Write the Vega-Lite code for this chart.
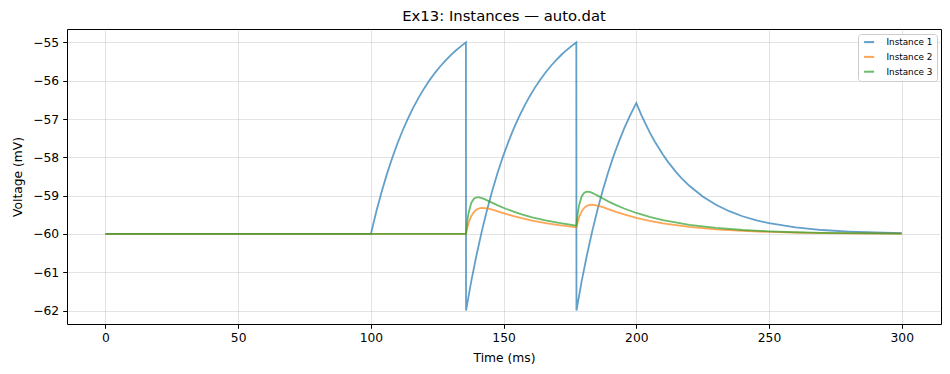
{
  "$schema": "https://vega.github.io/schema/vega-lite/v6.json",
  "width": 874,
  "height": 295,
  "autosize": "none",
  "padding": {"left": 67, "top": 29, "right": 9, "bottom": 50},
  "background": "white",
  "title": {"text": "Ex13: Instances — auto.dat", "anchor": "middle", "frame": "group", "font": "DejaVu Sans", "fontSize": 14.8, "fontWeight": "normal", "color": "black", "baseline": "bottom", "offset": 5, "dy": 15},
  "data": {"values": [
    {"s":"Instance 1","t":0,"v":-60},{"s":"Instance 1","t":100,"v":-60},{"s":"Instance 1","t":102,"v":-59.429},{"s":"Instance 1","t":104,"v":-58.912},{"s":"Instance 1","t":106,"v":-58.445},{"s":"Instance 1","t":108,"v":-58.022},{"s":"Instance 1","t":110,"v":-57.639},{"s":"Instance 1","t":112,"v":-57.293},{"s":"Instance 1","t":114,"v":-56.98},{"s":"Instance 1","t":116,"v":-56.696},{"s":"Instance 1","t":118,"v":-56.44},{"s":"Instance 1","t":120,"v":-56.207},{"s":"Instance 1","t":122,"v":-55.997},{"s":"Instance 1","t":124,"v":-55.807},{"s":"Instance 1","t":126,"v":-55.635},{"s":"Instance 1","t":128,"v":-55.48},{"s":"Instance 1","t":130,"v":-55.339},{"s":"Instance 1","t":132,"v":-55.211},{"s":"Instance 1","t":134,"v":-55.096},{"s":"Instance 1","t":135.8,"v":-55.0},{"s":"Instance 1","t":135.85,"v":-62.0},{"s":"Instance 1","t":137.8,"v":-61.239},{"s":"Instance 1","t":139.8,"v":-60.55},{"s":"Instance 1","t":141.8,"v":-59.927},{"s":"Instance 1","t":143.8,"v":-59.363},{"s":"Instance 1","t":145.8,"v":-58.852},{"s":"Instance 1","t":147.8,"v":-58.39},{"s":"Instance 1","t":149.8,"v":-57.973},{"s":"Instance 1","t":151.8,"v":-57.595},{"s":"Instance 1","t":153.8,"v":-57.253},{"s":"Instance 1","t":155.8,"v":-56.943},{"s":"Instance 1","t":157.8,"v":-56.663},{"s":"Instance 1","t":159.8,"v":-56.41},{"s":"Instance 1","t":161.8,"v":-56.18},{"s":"Instance 1","t":163.8,"v":-55.973},{"s":"Instance 1","t":165.8,"v":-55.785},{"s":"Instance 1","t":167.8,"v":-55.615},{"s":"Instance 1","t":169.8,"v":-55.462},{"s":"Instance 1","t":171.8,"v":-55.322},{"s":"Instance 1","t":173.8,"v":-55.197},{"s":"Instance 1","t":175.8,"v":-55.083},{"s":"Instance 1","t":177.4,"v":-55.0},{"s":"Instance 1","t":177.45,"v":-62.0},{"s":"Instance 1","t":179.4,"v":-61.239},{"s":"Instance 1","t":181.4,"v":-60.55},{"s":"Instance 1","t":183.4,"v":-59.927},{"s":"Instance 1","t":185.4,"v":-59.363},{"s":"Instance 1","t":187.4,"v":-58.852},{"s":"Instance 1","t":189.4,"v":-58.39},{"s":"Instance 1","t":191.4,"v":-57.973},{"s":"Instance 1","t":193.4,"v":-57.595},{"s":"Instance 1","t":195.4,"v":-57.253},{"s":"Instance 1","t":197.4,"v":-56.943},{"s":"Instance 1","t":199.4,"v":-56.663},{"s":"Instance 1","t":200,"v":-56.584},{"s":"Instance 1","t":202,"v":-56.909},{"s":"Instance 1","t":205,"v":-57.34},{"s":"Instance 1","t":207,"v":-57.593},{"s":"Instance 1","t":210,"v":-57.928},{"s":"Instance 1","t":212,"v":-58.125},{"s":"Instance 1","t":215,"v":-58.386},{"s":"Instance 1","t":217,"v":-58.54},{"s":"Instance 1","t":220,"v":-58.743},{"s":"Instance 1","t":225,"v":-59.021},{"s":"Instance 1","t":230,"v":-59.238},{"s":"Instance 1","t":235,"v":-59.406},{"s":"Instance 1","t":240,"v":-59.538},{"s":"Instance 1","t":245,"v":-59.64},{"s":"Instance 1","t":250,"v":-59.72},{"s":"Instance 1","t":260,"v":-59.83},{"s":"Instance 1","t":270,"v":-59.897},{"s":"Instance 1","t":280,"v":-59.937},{"s":"Instance 1","t":290,"v":-59.962},{"s":"Instance 1","t":300,"v":-59.977},
    {"s":"Instance 2","t":0,"v":-60},{"s":"Instance 2","t":135.8,"v":-60},{"s":"Instance 2","t":136.8,"v":-59.715},{"s":"Instance 2","t":137.8,"v":-59.535},{"s":"Instance 2","t":138.8,"v":-59.426},{"s":"Instance 2","t":139.8,"v":-59.364},{"s":"Instance 2","t":140.8,"v":-59.332},{"s":"Instance 2","t":141.8,"v":-59.321},{"s":"Instance 2","t":142.8,"v":-59.323},{"s":"Instance 2","t":143.8,"v":-59.333},{"s":"Instance 2","t":145.8,"v":-59.367},{"s":"Instance 2","t":147.8,"v":-59.409},{"s":"Instance 2","t":150.8,"v":-59.474},{"s":"Instance 2","t":153.8,"v":-59.534},{"s":"Instance 2","t":156.8,"v":-59.589},{"s":"Instance 2","t":160.8,"v":-59.652},{"s":"Instance 2","t":165.8,"v":-59.717},{"s":"Instance 2","t":170.8,"v":-59.77},{"s":"Instance 2","t":177.4,"v":-59.826},{"s":"Instance 2","t":178.4,"v":-59.57},{"s":"Instance 2","t":179.4,"v":-59.411},{"s":"Instance 2","t":180.4,"v":-59.317},{"s":"Instance 2","t":181.4,"v":-59.266},{"s":"Instance 2","t":182.4,"v":-59.243},{"s":"Instance 2","t":183.4,"v":-59.238},{"s":"Instance 2","t":184.4,"v":-59.245},{"s":"Instance 2","t":185.4,"v":-59.26},{"s":"Instance 2","t":187.4,"v":-59.302},{"s":"Instance 2","t":189.4,"v":-59.35},{"s":"Instance 2","t":192.4,"v":-59.422},{"s":"Instance 2","t":195.4,"v":-59.488},{"s":"Instance 2","t":200,"v":-59.577},{"s":"Instance 2","t":205,"v":-59.657},{"s":"Instance 2","t":210,"v":-59.721},{"s":"Instance 2","t":220,"v":-59.816},{"s":"Instance 2","t":230,"v":-59.879},{"s":"Instance 2","t":240,"v":-59.92},{"s":"Instance 2","t":250,"v":-59.947},{"s":"Instance 2","t":260,"v":-59.965},{"s":"Instance 2","t":270,"v":-59.977},{"s":"Instance 2","t":280,"v":-59.985},{"s":"Instance 2","t":300,"v":-59.993},
    {"s":"Instance 3","t":0,"v":-60},{"s":"Instance 3","t":135.8,"v":-60},{"s":"Instance 3","t":136.3,"v":-59.676},{"s":"Instance 3","t":136.8,"v":-59.451},{"s":"Instance 3","t":137.8,"v":-59.191},{"s":"Instance 3","t":138.8,"v":-59.079},{"s":"Instance 3","t":139.8,"v":-59.043},{"s":"Instance 3","t":140.8,"v":-59.044},{"s":"Instance 3","t":141.8,"v":-59.063},{"s":"Instance 3","t":142.8,"v":-59.091},{"s":"Instance 3","t":143.8,"v":-59.123},{"s":"Instance 3","t":145.8,"v":-59.189},{"s":"Instance 3","t":147.8,"v":-59.253},{"s":"Instance 3","t":150.8,"v":-59.341},{"s":"Instance 3","t":153.8,"v":-59.418},{"s":"Instance 3","t":156.8,"v":-59.486},{"s":"Instance 3","t":160.8,"v":-59.565},{"s":"Instance 3","t":165.8,"v":-59.647},{"s":"Instance 3","t":170.8,"v":-59.713},{"s":"Instance 3","t":177.4,"v":-59.782},{"s":"Instance 3","t":177.9,"v":-59.475},{"s":"Instance 3","t":178.4,"v":-59.262},{"s":"Instance 3","t":179.4,"v":-59.021},{"s":"Instance 3","t":180.4,"v":-58.921},{"s":"Instance 3","t":181.4,"v":-58.893},{"s":"Instance 3","t":182.4,"v":-58.902},{"s":"Instance 3","t":183.4,"v":-58.928},{"s":"Instance 3","t":184.4,"v":-58.962},{"s":"Instance 3","t":185.4,"v":-58.999},{"s":"Instance 3","t":187.4,"v":-59.076},{"s":"Instance 3","t":189.4,"v":-59.148},{"s":"Instance 3","t":192.4,"v":-59.248},{"s":"Instance 3","t":195.4,"v":-59.336},{"s":"Instance 3","t":200,"v":-59.452},{"s":"Instance 3","t":205,"v":-59.555},{"s":"Instance 3","t":210,"v":-59.639},{"s":"Instance 3","t":220,"v":-59.762},{"s":"Instance 3","t":230,"v":-59.843},{"s":"Instance 3","t":240,"v":-59.897},{"s":"Instance 3","t":250,"v":-59.932},{"s":"Instance 3","t":260,"v":-59.955},{"s":"Instance 3","t":270,"v":-59.97},{"s":"Instance 3","t":280,"v":-59.98},{"s":"Instance 3","t":300,"v":-59.991}
  ]},
  "mark": {"type": "line", "strokeWidth": 1.8, "opacity": 0.7, "clip": true},
  "encoding": {
    "x": {"field": "t", "type": "quantitative", "title": "Time (ms)",
      "scale": {"domain": [-14.5, 314.8], "nice": false, "zero": false},
      "axis": {"values": [0, 50, 100, 150, 200, 250, 300], "format": "d", "labelPadding": 3.5, "titlePadding": 7}},
    "y": {"field": "v", "type": "quantitative", "title": "Voltage (mV)",
      "scale": {"domain": [-62.35, -54.65], "nice": false, "zero": false},
      "axis": {"values": [-62, -61, -60, -59, -58, -57, -56, -55], "format": "d", "labelPadding": 4, "titlePadding": 8}},
    "color": {"field": "s", "type": "nominal", "title": null,
      "scale": {"domain": ["Instance 1", "Instance 2", "Instance 3"], "range": ["#1f77b4", "#ff7f0e", "#2ca02c"]},
      "legend": {"orient": "top-right", "offset": 4.5}}
  },
  "config": {
    "view": {"stroke": "black", "strokeWidth": 1},
    "axis": {
      "domain": false, "grid": true, "gridColor": "#b0b0b0", "gridOpacity": 0.35, "gridWidth": 1,
      "ticks": true, "tickColor": "black", "tickSize": 4.3, "tickWidth": 1,
      "labelFont": "DejaVu Sans", "labelFontSize": 12.3, "labelColor": "black",
      "titleFont": "DejaVu Sans", "titleFontSize": 12.3, "titleFontWeight": "normal", "titleColor": "black"
    },
    "legend": {
      "symbolType": "M-2,0H2", "symbolSize": 25, "symbolStrokeWidth": 2, "symbolOpacity": 0.7, "symbolOffset": 3,
      "labelFont": "DejaVu Sans", "labelFontSize": 8.8, "labelColor": "black", "labelOffset": 13,
      "rowPadding": 4.8, "padding": 3.7,
      "strokeColor": "#cccccc", "fillColor": "rgba(255,255,255,0.8)", "cornerRadius": 3
    }
  }
}
